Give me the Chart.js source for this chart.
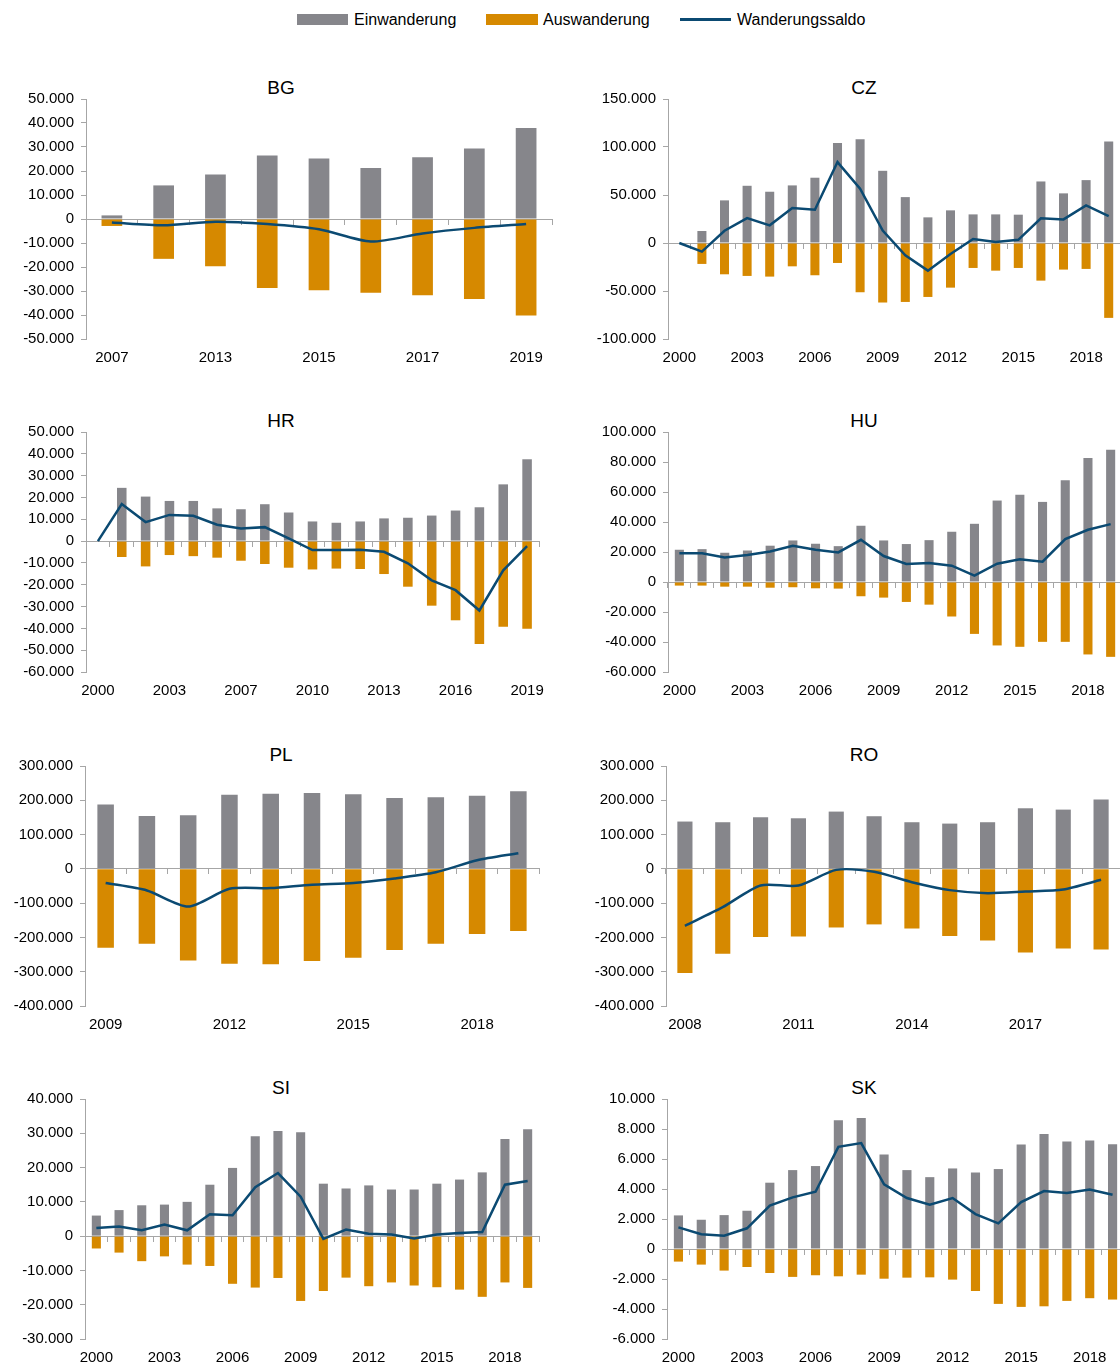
<!DOCTYPE html>
<html lang="de">
<head>
<meta charset="utf-8">
<title>Ein- und Auswanderung</title>
<script src="https://cdn.jsdelivr.net/npm/chart.js@4.4.1/dist/chart.umd.min.js"></script>
<style>
  html, body { margin: 0; padding: 0; background: #fff; overflow: hidden; }
  body { width: 1120px; height: 1367px; position: relative; font-family: 'Liberation Sans', Arial, sans-serif; }
  .sw { position: absolute; }
  .lt { position: absolute; top: 11px; font-size: 16px; line-height: 18px; color: #000; white-space: nowrap; }
  .ttl { position: absolute; width: 100px; text-align: center; font-size: 19px; line-height: 20px; color: #000; }
  canvas { position: absolute; }
</style>
</head>
<body>
<div class="sw" style="left:297px;top:14px;width:51px;height:11px;background:#86868b"></div>
<div class="lt" style="left:354px">Einwanderung</div>
<div class="sw" style="left:486px;top:14px;width:52px;height:11px;background:#d68900"></div>
<div class="lt" style="left:543px">Auswanderung</div>
<div class="sw" style="left:680px;top:18px;width:51px;height:3px;background:#0b4a72"></div>
<div class="lt" style="left:737px">Wanderungssaldo</div>

<div class="ttl" style="left:231px;top:78px">BG</div>
<div class="ttl" style="left:814px;top:78px">CZ</div>
<div class="ttl" style="left:231px;top:411px">HR</div>
<div class="ttl" style="left:814px;top:411px">HU</div>
<div class="ttl" style="left:231px;top:745px">PL</div>
<div class="ttl" style="left:814px;top:745px">RO</div>
<div class="ttl" style="left:231px;top:1078px">SI</div>
<div class="ttl" style="left:814px;top:1078px">SK</div>

<canvas id="c-bg" width="560" height="289" style="left:0;top:80px"></canvas>
<canvas id="c-cz" width="608" height="289" style="left:560px;top:80px"></canvas>
<canvas id="c-hr" width="560" height="289" style="left:0;top:413px"></canvas>
<canvas id="c-hu" width="608" height="289" style="left:560px;top:413px"></canvas>
<canvas id="c-pl" width="560" height="289" style="left:0;top:747px"></canvas>
<canvas id="c-ro" width="608" height="289" style="left:560px;top:747px"></canvas>
<canvas id="c-si" width="560" height="289" style="left:0;top:1080px"></canvas>
<canvas id="c-sk" width="608" height="289" style="left:560px;top:1080px"></canvas>

<script>
// categories
var years2000 = ['2000', '2001', '2002', '2003', '2004', '2005', '2006', '2007', '2008', '2009',
  '2010', '2011', '2012', '2013', '2014', '2015', '2016', '2017', '2018', '2019'];
var bgYears = ['2007', '2012', '2013', '2014', '2015', '2016', '2017', '2018', '2019'];
var hrYears = ['2000', '2001', '2002', '2003', '2004', '2005', '2007', '2008', '2009', '2010',
  '2011', '2012', '2013', '2014', '2015', '2016', '2017', '2018', '2019'];
var plYears = ['2009', '2010', '2011', '2012', '2013', '2014', '2015', '2016', '2017', '2018', '2019'];
var roYears = ['2008', '2009', '2010', '2011', '2012', '2013', '2014', '2015', '2016', '2017', '2018', '2019'];

// BG
var bgImm = [1500, 14000, 18500, 26500, 25200, 21200, 25700, 29400, 37900];
var bgEmi = [-2900, -16600, -19700, -28700, -29700, -30700, -31800, -33300, -40200];
var bgNet = [-1500, -2600, -1100, -2100, -4300, -9400, -6000, -3700, -2100];
var bgAxis = [-50000, 50000, 10000];

// CZ
var czImm = [null, 12500, 44400, 59600, 53400, 60000, 68000, 104200, 108200, 75200, 47800, 26700, 34000, 29800, 29800, 29500, 64100, 51700, 65500, 105800];
var czEmi = [null, -21800, -32600, -34300, -35000, -24300, -33600, -20800, -51300, -62000, -61400, -56200, -46500, -26000, -28800, -26000, -39200, -27700, -27000, -78000];
var czNet = [0, -9000, 12800, 26000, 18400, 36400, 34700, 84300, 56500, 13000, -12800, -28800, -11400, 4200, 1000, 3300, 25700, 24600, 39200, 28100];
var czAxis = [-100000, 150000, 50000];

// HR
var hrImm = [null, 24400, 20400, 18400, 18400, 15000, 14600, 16900, 13100, 9000, 8400, 9000, 10400, 10700, 11700, 14000, 15500, 26000, 37500];
var hrEmi = [null, -7300, -11600, -6400, -6900, -7600, -9000, -10500, -12200, -13000, -12600, -12800, -15100, -20900, -29600, -36300, -47200, -39300, -40200];
var hrNet = [0, 17000, 8700, 12000, 11600, 7500, 5800, 6400, 1200, -4100, -4100, -4000, -4900, -10200, -18000, -22500, -31800, -13400, -2300];
var hrAxis = [-60000, 50000, 10000];

// HU
var huImm = [21500, 21900, 19500, 21000, 24200, 27700, 25500, 23900, 37500, 27700, 25300, 27900, 33500, 38800, 54300, 58100, 53400, 67800, 82700, 88200];
var huEmi = [-2400, -2400, -3100, -3100, -3800, -3500, -4200, -4400, -9500, -10400, -13300, -15100, -23000, -34600, -42300, -43200, -39900, -39900, -48300, -49900];
var huNet = [19100, 19100, 16400, 18000, 20400, 24200, 21500, 19700, 28100, 17300, 12000, 12600, 10900, 4200, 12200, 15100, 13500, 28600, 34800, 38600];
var huAxis = [-60000, 100000, 20000];

// PL
var plImm = [188000, 154000, 156000, 216500, 219000, 221000, 217500, 207000, 209000, 213500, 226000];
var plEmi = [-230000, -218500, -267000, -277000, -278000, -269000, -259000, -237000, -218500, -190000, -181500];
var plNet = [-41000, -63000, -110000, -58000, -56000, -46000, -41000, -28000, -10000, 25000, 45600];
var plAxis = [-400000, 300000, 100000];

// RO
var roImm = [138000, 136000, 150500, 147500, 167000, 153500, 136000, 132000, 136000, 176700, 172800, 202000];
var roEmi = [-304000, -247600, -199000, -197000, -171000, -162000, -174000, -196000, -208700, -243700, -232000, -235000];
var roNet = [-166000, -111700, -48500, -48500, -3000, -8700, -38800, -62000, -70900, -66000, -60200, -32000];
var roAxis = [-400000, 300000, 100000];

// SI
var siImm = [6000, 7600, 9000, 9200, 10000, 15000, 19900, 29100, 30700, 30300, 15300, 13900, 14800, 13600, 13600, 15300, 16500, 18600, 28300, 31200];
var siEmi = [-3600, -4800, -7300, -5900, -8300, -8700, -13900, -15000, -12200, -18900, -16000, -12100, -14600, -13500, -14400, -14900, -15600, -17700, -13500, -15100];
var siNet = [2400, 2800, 1700, 3400, 1700, 6400, 6100, 14300, 18400, 11500, -800, 1900, 700, 500, -700, 500, 900, 1200, 15000, 16100];
var siAxis = [-30000, 40000, 10000];

// SK
var skImm = [2240, 1950, 2260, 2550, 4420, 5260, 5530, 8590, 8740, 6300, 5260, 4790, 5370, 5100, 5330, 6970, 7660, 7170, 7230, 6990];
var skEmi = [-840, -1040, -1440, -1200, -1600, -1860, -1750, -1820, -1710, -1980, -1910, -1890, -2040, -2800, -3660, -3860, -3820, -3460, -3280, -3370];
var skNet = [1440, 980, 890, 1380, 2890, 3440, 3820, 6810, 7060, 4310, 3400, 2950, 3400, 2330, 1710, 3130, 3860, 3730, 3970, 3620];
var skAxis = [-6000, 10000, 2000];

(function () {
  'use strict';

  var FONT = "'Liberation Sans', Arial, sans-serif";
  var GREY = '#86868b';
  var ORANGE = '#d68900';
  var NAVY = '#0b4a72';
  var AXIS = '#a6a6a6';

  // German thousands separator, e.g. -10.000
  function fmt(v) {
    var s = Math.abs(v).toFixed(0).replace(/\B(?=(\d{3})+(?!\d))/g, '.');
    return (v < 0 ? '-' : '') + s;
  }

  // o.plotLeft: x of the y axis line inside the canvas
  function draw(id, labels, imm, emi, net, axis, o) {
    new Chart(document.getElementById(id), {
      type: 'bar',
      data: {
        labels: labels,
        datasets: [
          {
            type: 'line',
            label: 'Wanderungssaldo',
            data: net,
            xAxisID: 'x',
            borderColor: NAVY,
            borderWidth: 2.5,
            pointRadius: 0,
            tension: o.tension || 0,
            fill: false,
            order: 0,
          },
          {
            label: 'Einwanderung',
            data: imm,
            xAxisID: 'x',
            backgroundColor: GREY,
            grouped: false,
            categoryPercentage: 1,
            barPercentage: 0.4,
            order: 1,
          },
          {
            label: 'Auswanderung',
            data: emi,
            xAxisID: 'x',
            backgroundColor: ORANGE,
            grouped: false,
            categoryPercentage: 1,
            barPercentage: 0.4,
            order: 1,
          },
        ],
      },
      options: {
        responsive: false,
        animation: false,
        events: [],
        layout: { padding: { left: 0, right: o.padRight, top: 19, bottom: 0 } },
        plugins: {
          legend: { display: false },
          tooltip: { enabled: false },
        },
        scales: {
          x: {
            offset: true,
            grid: { display: false, drawTicks: false, offset: true },
            border: { display: false },
            ticks: {
              autoSkip: false,
              maxRotation: 0,
              padding: 10,
              color: '#000',
              font: { family: FONT, size: 15 },
              callback: function (v, i) {
                return i % o.step === 0 ? this.getLabelForValue(v) : '';
              },
            },
            afterFit: function (s) {
              s.height = 30;
            },
          },
          xz: {
            axis: 'x',
            type: 'category',
            position: { y: 0 },
            offset: true,
            grid: { offset: true, drawOnChartArea: false, drawTicks: true, tickLength: 5, color: AXIS },
            border: { display: true, color: AXIS, width: 1 },
            ticks: { display: false },
          },
          y: {
            min: axis[0],
            max: axis[1],
            ticks: {
              stepSize: axis[2],
              padding: 7,
              color: '#000',
              font: { family: FONT, size: 15 },
              callback: fmt,
            },
            grid: { drawOnChartArea: false, drawTicks: true, tickLength: 5, color: AXIS },
            border: { color: AXIS },
            afterFit: function (s) {
              s.width = o.plotLeft;
            },
          },
        },
      },
    });
  }

  draw('c-bg', bgYears, bgImm, bgEmi, bgNet, bgAxis, { step: 2, plotLeft: 86, padRight: 8, tension: 0.25 });
  draw('c-cz', years2000, czImm, czEmi, czNet, czAxis, { step: 3, plotLeft: 108, padRight: 48 });
  draw('c-hr', hrYears, hrImm, hrEmi, hrNet, hrAxis, { step: 3, plotLeft: 86, padRight: 21 });
  draw('c-hu', years2000, huImm, huEmi, huNet, huAxis, { step: 3, plotLeft: 108, padRight: 46 });
  draw('c-pl', plYears, plImm, plEmi, plNet, plAxis, { step: 3, plotLeft: 85, padRight: 21, tension: 0.25 });
  draw('c-ro', roYears, roImm, roEmi, roNet, roAxis, { step: 3, plotLeft: 106, padRight: 48, tension: 0.25 });
  draw('c-si', years2000, siImm, siEmi, siNet, siAxis, { step: 3, plotLeft: 85, padRight: 21 });
  draw('c-sk', years2000, skImm, skEmi, skNet, skAxis, { step: 3, plotLeft: 107, padRight: 44 });
})();
</script>
</body>
</html>
